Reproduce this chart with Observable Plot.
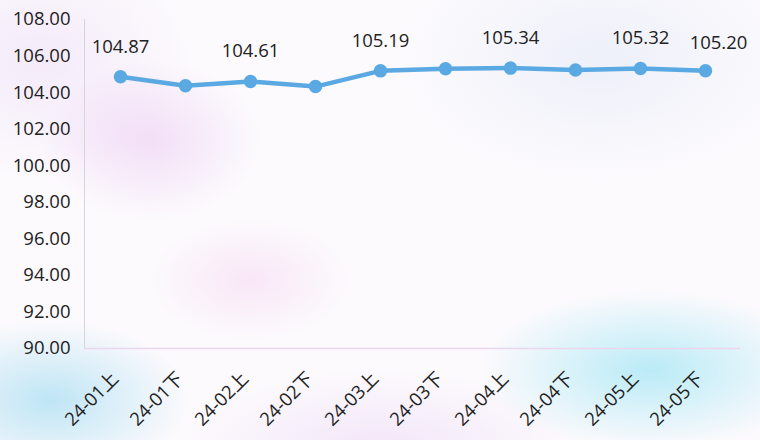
<!DOCTYPE html>
<html>
<head>
<meta charset="utf-8">
<script src="https://cdn.jsdelivr.net/npm/d3@7"></script>
<script src="https://cdn.jsdelivr.net/npm/@observablehq/plot@0.6"></script>
<style>
  html, body { margin: 0; padding: 0; }
  body {
    width: 760px; height: 440px; overflow: hidden;
    background:
      radial-gradient(ellipse 110px 80px at 150px 140px, rgba(225,170,235,0.35), rgba(255,255,255,0) 100%),
      radial-gradient(ellipse 100px 60px at 250px 280px, rgba(240,180,230,0.28), rgba(255,255,255,0) 100%),
      radial-gradient(ellipse 140px 80px at 50px 400px, rgba(150,215,240,0.6), rgba(255,255,255,0) 100%),
      radial-gradient(ellipse 170px 80px at 650px 370px, rgba(120,220,240,0.5), rgba(255,255,255,0) 100%),
      radial-gradient(ellipse 200px 80px at 380px 450px, rgba(225,190,240,0.35), rgba(255,255,255,0) 100%),
      radial-gradient(ellipse 200px 120px at 600px 60px, rgba(215,225,245,0.4), rgba(255,255,255,0) 100%),
      radial-gradient(ellipse 150px 120px at 40px 60px, rgba(235,215,245,0.45), rgba(255,255,255,0) 100%),
      #fcfafd;
  }
  #chart svg { display: block; background: transparent; }
</style>
</head>
<body>
<div id="chart"></div>
<script>
const periods = ["24-01上","24-01下","24-02上","24-02下","24-03上","24-03下","24-04上","24-04下","24-05上","24-05下"];
const values = [104.87, 104.38, 104.61, 104.33, 105.19, 105.30, 105.34, 105.24, 105.32, 105.20];
const labelShown = [true, false, true, false, true, false, true, false, true, true];
const yTicks = [90, 92, 94, 96, 98, 100, 102, 104, 106, 108];

const data = periods.map((p, i) => ({period: p, value: values[i], show: labelShown[i], last: i === periods.length - 1}));
const font = "'Open Sans', 'Noto Sans CJK SC', sans-serif";
const fs = 18.5;

const chart = Plot.plot({
  width: 760,
  height: 440,
  marginLeft: 84,
  marginRight: 20,
  marginTop: 19,
  marginBottom: 92,
  style: {background: "transparent", fontFamily: font},
  x: {type: "point", domain: periods, padding: 0.5, label: null},
  y: {domain: [90, 108], label: null},
  marks: [
    Plot.frame({anchor: "left", stroke: "#d8d3dc"}),
    Plot.ruleY([90], {stroke: "#ecd6ee", strokeWidth: 1.5}),
    Plot.axisY({ticks: yTicks, tickFormat: d => d.toFixed(2), tickSize: 0, tickPadding: 14, fontSize: fs, fill: "#222", label: null}),
    Plot.axisX({tickRotate: -45, tickSize: 0, tickPadding: 27, dx: -5, fontSize: fs, fill: "#222", label: null}),
    Plot.line(data, {x: "period", y: "value", stroke: "#5aa9e2", strokeWidth: 4.5, strokeLinejoin: "round", strokeLinecap: "round"}),
    Plot.dot(data, {x: "period", y: "value", r: 6, fill: "#5aa9e2", stroke: "#5aa9e2"}),
    Plot.text(data.filter(d => d.show && !d.last), {x: "period", y: "value", text: d => d.value.toFixed(2), dy: -30, fontSize: fs, fill: "#222"}),
    Plot.text(data.filter(d => d.show && d.last), {x: "period", y: "value", text: d => d.value.toFixed(2), dy: -28, dx: 13, fontSize: fs, fill: "#222"})
  ]
});
document.getElementById("chart").appendChild(chart);
</script>
</body>
</html>
